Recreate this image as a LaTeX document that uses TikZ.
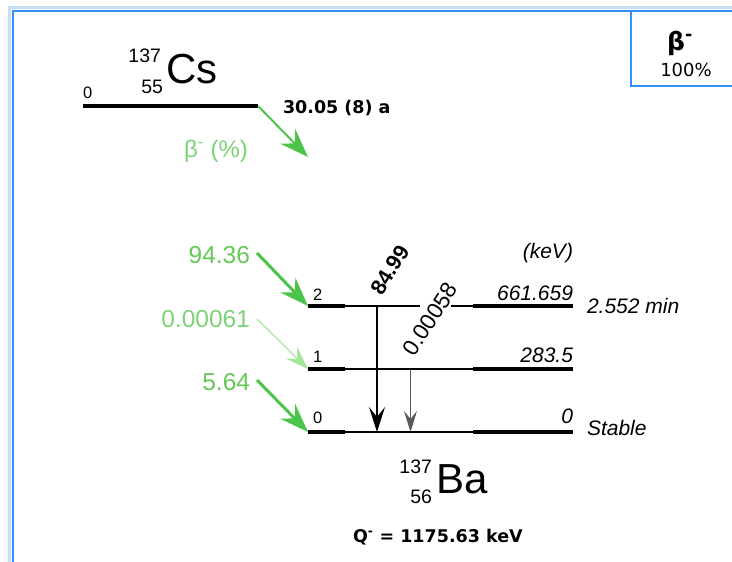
\documentclass[tikz,border=0pt]{standalone}
\usepackage{fontspec}
\setmainfont{Liberation Sans}
\newfontfamily\vf{DejaVu Sans}
\usetikzlibrary{arrows.meta}
\definecolor{frameblue}{RGB}{51,145,255}
\definecolor{framelight}{RGB}{200,222,242}
\definecolor{garrow}{RGB}{76,196,76}
\definecolor{glabel}{RGB}{100,200,85}
\definecolor{glight}{RGB}{165,228,155}
\definecolor{gtext}{RGB}{125,210,120}
\newcommand{\myfs}[1]{\fontsize{#1}{#1}\selectfont}
\begin{document}
\begin{tikzpicture}[x=1pt,y=-1pt,
  txt/.style={inner sep=0pt, outer sep=0pt},
  thicklev/.style={line width=3.5pt, line cap=butt},
  thinlev/.style={line width=1.6pt, line cap=butt},
  gam/.style={line width=2.2pt, -{Stealth[length=25pt,width=16pt,inset=10pt]}},
  gamthin/.style={line width=1pt, black!65, -{Stealth[length=21pt,width=13pt,inset=8pt]}},
  beta/.style={garrow, line width=3pt, -{Stealth[length=29pt,width=21pt,inset=10pt]}},
  betalight/.style={glight, line width=1.2pt, -{Stealth[length=23pt,width=16pt,inset=8pt]}},
  betalbl/.style={txt, anchor=base east, text=glabel, font=\myfs{24.5}},
  elbl/.style={txt, anchor=base east, font=\myfs{21}\itshape},
  llbl/.style={txt, anchor=base west, font=\myfs{16.5}}
]
\useasboundingbox (0,0) rectangle (732,562);
% frame
\draw[framelight, line width=3pt] (9.5,562) -- (9.5,7.5) -- (732,7.5);
\draw[frameblue, line width=2.2pt] (13,562) -- (13,11) -- (732,11);
\draw[frameblue, line width=2pt] (631,11) -- (631,86) -- (732,86);
\node[txt, anchor=base] (bb) at (680,50) {\vf\bfseries\myfs{25}β\textsuperscript{-}};
\node[txt, anchor=base] (bp) at (686,76) {\vf\myfs{18}100\%};

% parent
\node[txt, anchor=base west, font=\myfs{42}] (cs) at (166,83) {Cs};
\node[txt, anchor=base east, font=\myfs{19.5}] (csA) at (161,62) {137};
\node[txt, anchor=base east, font=\myfs{19.5}] (csZ) at (163,93) {55};
\node[llbl] (cs0) at (83,98) {0};
\coordinate (csL) at (83,106);
\coordinate (csR) at (258,106);
\draw[thicklev] (csL) -- (csR);
\node[txt, anchor=base west, font=\vf\bfseries\myfs{17.5}] (hl) at (283,113) {30.05 (8) a};
\coordinate (csT) at (308,157);
\draw[beta, line width=2pt] (csR) -- (csT);
\node[txt, anchor=base, text=gtext, font=\myfs{24}] (bpct) at (216,157) {β\textsuperscript{-} (\%)};

% daughter levels
\foreach \n/\y in {2/306,1/369,0/432}{
  \coordinate (l\n A) at (308,\y);
  \coordinate (l\n B) at (345,\y);
  \coordinate (l\n C) at (473,\y);
  \coordinate (l\n D) at (573,\y);
  \draw[thicklev] (l\n A) -- (l\n B);
  \draw[thicklev] (l\n C) -- (l\n D);
}
\coordinate (g2a) at (420,306);
\coordinate (g2b) at (451,306);
\draw[thinlev] (l2B) -- (g2a);
\draw[thinlev] (g2b) -- (l2C);
\draw[thinlev] (l1B) -- (l1C);
\draw[thinlev] (l0B) -- (l0C);

\node[llbl] (n2) at (313,300) {2};
\node[llbl] (n1) at (313,362) {1};
\node[llbl] (n0) at (313,423) {0};

\node[elbl] (kev) at (573,258) {(keV)};
\node[elbl] (e2) at (573,300) {661.659};
\node[elbl] (e1) at (573,362) {283.5};
\node[elbl] (e0) at (573,423) {0};
\node[txt, anchor=base west, font=\myfs{21}\itshape] (t2) at (587,313) {2.552 min};
\node[txt, anchor=base west, font=\myfs{21}\itshape] (t0) at (587,435) {Stable};

% gamma transitions
\coordinate (ga1) at (377,306);
\coordinate (ga2) at (377,432);
\draw[gam] (ga1) -- (ga2);
\coordinate (gb1) at (410.5,369);
\coordinate (gb2) at (410.5,432);
\draw[gamthin] (gb1) -- (gb2);
\node[txt, rotate=59, font=\bfseries\myfs{21.5}] (gi1) at (390,270) {84.99};
\node[txt, rotate=57, font=\myfs{22.5}] (gi2) at (430,319) {0.00058};

% beta branches
\coordinate (s2) at (257,253);
\coordinate (s1) at (257,319);
\coordinate (s0) at (257,380);
\draw[beta] (s2) -- (l2A);
\draw[betalight] (s1) -- (l1A);
\draw[beta] (s0) -- (l0A);
\node[betalbl] (b2) at (250,263) {94.36};
\node[betalbl, text=gtext] (b1) at (250,327) {0.00061};
\node[betalbl] (b0) at (250,390) {5.64};

% daughter label
\node[txt, anchor=base west, font=\myfs{42}] (ba) at (436,493) {Ba};
\node[txt, anchor=base east, font=\myfs{19.5}] (baA) at (432,473) {137};
\node[txt, anchor=base east, font=\myfs{19.5}] (baZ) at (432,503) {56};
\node[txt, anchor=base west, font=\vf\bfseries\myfs{17.5}] (q) at (353,542) {Q\textsuperscript{-} = 1175.63 keV};
\end{tikzpicture}
\end{document}
